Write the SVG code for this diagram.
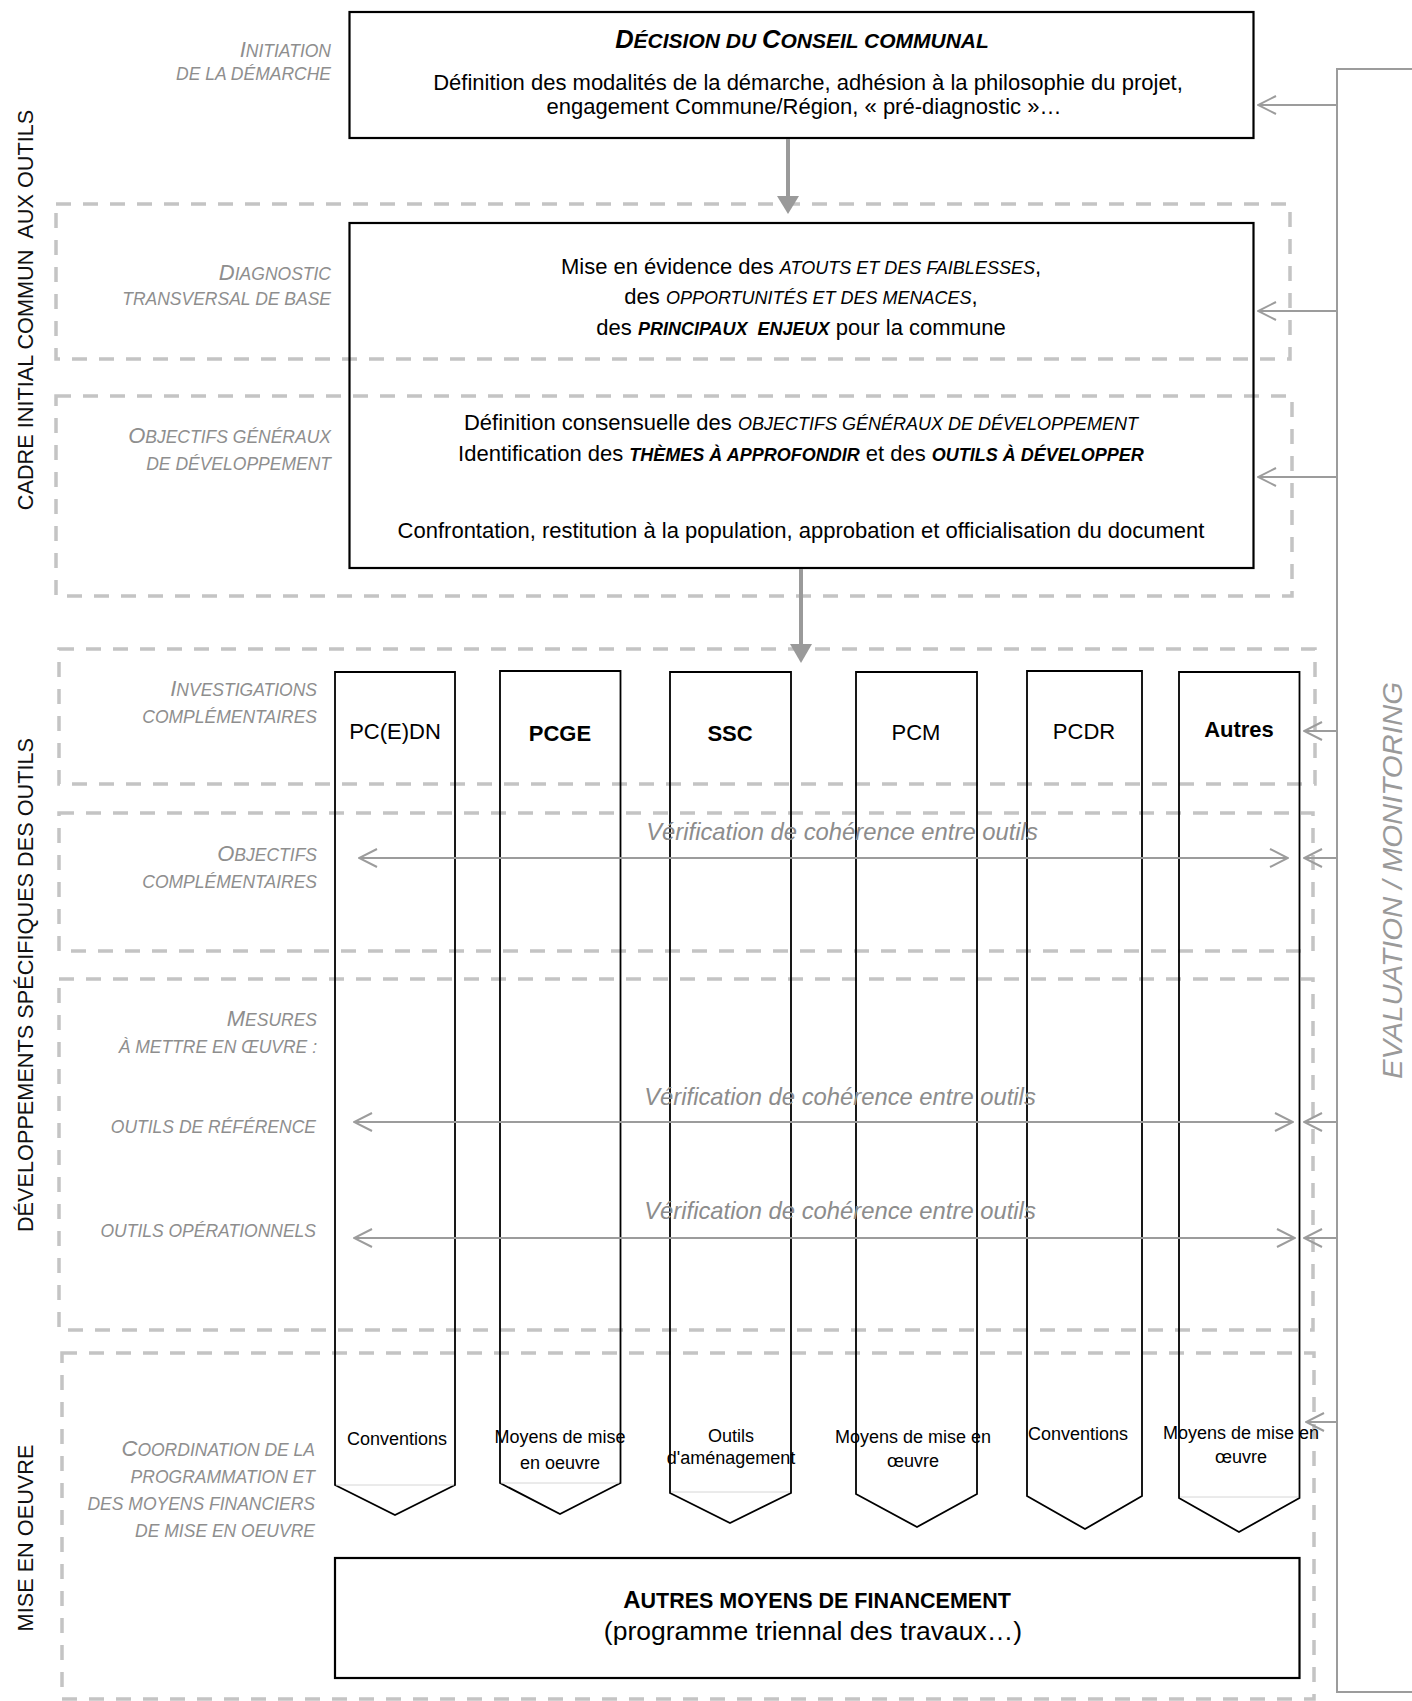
<svg xmlns="http://www.w3.org/2000/svg" width="1412" height="1701" viewBox="0 0 1412 1701">
<defs>
<style>
text{font-family:"Liberation Sans",Arial,sans-serif;fill:#000}
.box{fill:none;stroke:#000;stroke-width:2.2}
.dash{fill:none;stroke:#c4c4c4;stroke-width:3.5;stroke-dasharray:15 12}
.col{fill:none;stroke:#000;stroke-width:1.8}
.base{stroke:#d6d6d6;stroke-width:1}
.flow{stroke:#9a9a9a;stroke-width:4;fill:none}
.head{fill:#9a9a9a}
.thin{stroke:#9c9c9c;stroke-width:2;fill:none}
.body{font-size:22px}
.sc{font-style:italic;font-size:18px}
.bsc{font-style:italic;font-weight:bold;font-size:18px}
.lab{font-style:italic;font-size:17.5px;fill:#8e8e8e}
.big{font-size:22px}
.side{font-size:21.7px;fill:#111}
.verif{font-style:italic;font-size:23.8px;fill:#8c8c8c}
.colt{font-size:22px}
.colb{font-size:18px}
.eval{font-style:italic;font-size:28px;fill:#9a9a9a}
</style>
<marker id="open" viewBox="0 0 20 20" refX="19" refY="10" markerWidth="20" markerHeight="20" markerUnits="userSpaceOnUse" orient="auto-start-reverse">
<path d="M1,1 L19,10 L1,19" fill="none" stroke="#9c9c9c" stroke-width="2"/>
</marker>
</defs>
<rect width="1412" height="1701" fill="#fff"/>

<g id="zones">
<rect class="dash" x="56" y="204" width="1234" height="155"/>
<rect class="dash" x="56" y="396" width="1236" height="200"/>
<rect class="dash" x="59" y="649" width="1256" height="135"/>
<rect class="dash" x="59" y="813" width="1254" height="138"/>
<rect class="dash" x="59" y="979" width="1254" height="351"/>
<rect class="dash" x="62" y="1353" width="1252" height="346"/>
</g>

<g id="side-labels">
<text class="side" transform="translate(33,310) rotate(-90)" text-anchor="middle" xml:space="preserve">CADRE INITIAL COMMUN  AUX OUTILS</text>
<text class="side" transform="translate(33,985) rotate(-90)" text-anchor="middle">DÉVELOPPEMENTS SPÉCIFIQUES DES OUTILS</text>
<text class="side" transform="translate(33,1538) rotate(-90)" text-anchor="middle">MISE EN OEUVRE</text>
<text class="eval" transform="translate(1402,1079) rotate(-90)" textLength="397" lengthAdjust="spacingAndGlyphs">EVALUATION / MONITORING</text>
</g>

<g id="stage-labels">
<text class="lab" x="331" y="57" text-anchor="end"><tspan class="big">I</tspan>NITIATION</text>
<text class="lab" x="331" y="80" text-anchor="end">DE LA DÉMARCHE</text>
<text class="lab" x="331" y="280" text-anchor="end"><tspan class="big">D</tspan>IAGNOSTIC</text>
<text class="lab" x="331" y="305" text-anchor="end">TRANSVERSAL DE BASE</text>
<text class="lab" x="331" y="443" text-anchor="end"><tspan class="big">O</tspan>BJECTIFS GÉNÉRAUX</text>
<text class="lab" x="331" y="470" text-anchor="end">DE DÉVELOPPEMENT</text>
<text class="lab" x="317" y="696" text-anchor="end"><tspan class="big">I</tspan>NVESTIGATIONS</text>
<text class="lab" x="317" y="723" text-anchor="end">COMPLÉMENTAIRES</text>
<text class="lab" x="317" y="861" text-anchor="end"><tspan class="big">O</tspan>BJECTIFS</text>
<text class="lab" x="317" y="888" text-anchor="end">COMPLÉMENTAIRES</text>
<text class="lab" x="317" y="1026" text-anchor="end"><tspan class="big">M</tspan>ESURES</text>
<text class="lab" x="317" y="1053" text-anchor="end">À METTRE EN ŒUVRE :</text>
<text class="lab" x="316" y="1133" text-anchor="end">OUTILS DE RÉFÉRENCE</text>
<text class="lab" x="316" y="1237" text-anchor="end">OUTILS OPÉRATIONNELS</text>
<text class="lab" x="315" y="1456" text-anchor="end"><tspan class="big">C</tspan>OORDINATION DE LA</text>
<text class="lab" x="315" y="1483" text-anchor="end">PROGRAMMATION ET</text>
<text class="lab" x="315" y="1510" text-anchor="end">DES MOYENS FINANCIERS</text>
<text class="lab" x="315" y="1537" text-anchor="end">DE MISE EN OEUVRE</text>
</g>

<g id="decision">
<rect class="box" x="349.5" y="12" width="904" height="126"/>
<text x="802" y="48" text-anchor="middle" font-weight="bold" font-style="italic" font-size="21"><tspan font-size="25.5">D</tspan>ÉCISION DU <tspan font-size="25.5">C</tspan>ONSEIL COMMUNAL</text>
<text class="body" x="808" y="90" text-anchor="middle" font-size="22.5">Définition des modalités de la démarche, adhésion à la philosophie du projet,</text>
<text class="body" x="804" y="114" text-anchor="middle" font-size="22.5">engagement Commune/Région, « pré-diagnostic »…</text>
</g>

<g id="diagnostic">
<rect class="box" x="349.5" y="223" width="904" height="345"/>
<text class="body" x="801" y="274" text-anchor="middle">Mise en évidence des <tspan class="sc">ATOUTS ET DES FAIBLESSES</tspan>,</text>
<text class="body" x="801" y="304" text-anchor="middle">des <tspan class="sc">OPPORTUNITÉS ET DES MENACES</tspan>,</text>
<text class="body" x="801" y="335" text-anchor="middle" xml:space="preserve">des <tspan class="bsc">PRINCIPAUX  ENJEUX</tspan> pour la commune</text>
<text class="body" x="801" y="430" text-anchor="middle">Définition consensuelle des <tspan class="sc">OBJECTIFS GÉNÉRAUX DE DÉVELOPPEMENT</tspan></text>
<text class="body" x="801" y="461" text-anchor="middle">Identification des <tspan class="bsc">THÈMES À APPROFONDIR</tspan> et des <tspan class="bsc">OUTILS À DÉVELOPPER</tspan></text>
<text class="body" x="801" y="538" text-anchor="middle">Confrontation, restitution à la population, approbation et officialisation du document</text>
</g>

<g id="col-pcedn">
<path class="col" d="M335,1485 V672 H455 V1485 L395,1515 Z"/>
<line class="base" x1="336" y1="1485" x2="454" y2="1485"/>
<text class="colt" x="395" y="739" text-anchor="middle">PC(E)DN</text>
<text class="colb" x="397" y="1445" text-anchor="middle">Conventions</text>
</g>
<g id="col-pcge">
<path class="col" d="M500,1483 V671 H620.5 V1483 L560,1514 Z"/>
<line class="base" x1="501" y1="1483" x2="619" y2="1483"/>
<text class="colt" x="560" y="741" text-anchor="middle" font-weight="bold" font-size="27">PCGE</text>
<text class="colb" x="560" y="1443" text-anchor="middle">Moyens de mise</text>
<text class="colb" x="560" y="1469" text-anchor="middle">en oeuvre</text>
</g>
<g id="col-ssc">
<path class="col" d="M670,1493 V672 H791 V1493 L730,1523 Z"/>
<line class="base" x1="671" y1="1492" x2="790" y2="1492"/>
<text class="colt" x="730" y="741" text-anchor="middle" font-weight="bold" font-size="27">SSC</text>
<text class="colb" x="731" y="1442" text-anchor="middle">Outils</text>
<text class="colb" x="731" y="1464" text-anchor="middle">d'aménagement</text>
</g>
<g id="col-pcm">
<path class="col" d="M856,1494 V672 H977 V1494 L917,1527 Z"/>
<text class="colt" x="916" y="740" text-anchor="middle">PCM</text>
<text class="colb" x="913" y="1443" text-anchor="middle">Moyens de mise en</text>
<text class="colb" x="913" y="1467" text-anchor="middle">œuvre</text>
</g>
<g id="col-pcdr">
<path class="col" d="M1027,1496 V671 H1142 V1496 L1085,1529 Z"/>
<text class="colt" x="1084" y="739" text-anchor="middle">PCDR</text>
<text class="colb" x="1078" y="1440" text-anchor="middle">Conventions</text>
</g>
<g id="col-autres">
<path class="col" d="M1179,1498 V672 H1299.5 V1498 L1239,1532 Z"/>
<line class="base" x1="1180" y1="1497" x2="1298" y2="1497"/>
<text class="colt" x="1239" y="737" text-anchor="middle" font-weight="bold" font-size="20">Autres</text>
<text class="colb" x="1241" y="1439" text-anchor="middle">Moyens de mise en</text>
<text class="colb" x="1241" y="1463" text-anchor="middle">œuvre</text>
</g>

<g id="financement">
<rect class="box" x="335" y="1558" width="964.5" height="120"/>
<text x="817" y="1608" text-anchor="middle" font-weight="bold" font-size="21.5"><tspan font-size="24">A</tspan>UTRES MOYENS DE FINANCEMENT</text>
<text x="813" y="1640" text-anchor="middle" font-size="26.5">(programme triennal des travaux…)</text>
</g>

<g id="connectors">
<line class="flow" x1="788" y1="139" x2="788" y2="200"/>
<polygon class="head" points="777,196 799,196 788,214"/>
<line class="flow" x1="801" y1="569" x2="801" y2="648"/>
<polygon class="head" points="790,644 812,644 801,663"/>

<path class="thin" d="M1412,69 H1337 V1692 H1412"/>
<line class="thin" x1="1337" y1="105" x2="1258" y2="105" marker-end="url(#open)"/>
<line class="thin" x1="1337" y1="311" x2="1258" y2="311" marker-end="url(#open)"/>
<line class="thin" x1="1337" y1="477" x2="1258" y2="477" marker-end="url(#open)"/>
<line class="thin" x1="1337" y1="731" x2="1304" y2="731" marker-end="url(#open)"/>
<line class="thin" x1="1337" y1="858" x2="1304" y2="858" marker-end="url(#open)"/>
<line class="thin" x1="1337" y1="1122" x2="1304" y2="1122" marker-end="url(#open)"/>
<line class="thin" x1="1337" y1="1238" x2="1304" y2="1238" marker-end="url(#open)"/>
<line class="thin" x1="1337" y1="1422" x2="1306" y2="1422" marker-end="url(#open)"/>

<line class="thin" x1="359" y1="858" x2="1288" y2="858" marker-start="url(#open)" marker-end="url(#open)"/>
<line class="thin" x1="354" y1="1122" x2="1293" y2="1122" marker-start="url(#open)" marker-end="url(#open)"/>
<line class="thin" x1="354" y1="1238" x2="1295" y2="1238" marker-start="url(#open)" marker-end="url(#open)"/>
<text class="verif" x="842" y="840" text-anchor="middle">Vérification de cohérence entre outils</text>
<text class="verif" x="840" y="1105" text-anchor="middle">Vérification de cohérence entre outils</text>
<text class="verif" x="840" y="1219" text-anchor="middle">Vérification de cohérence entre outils</text>
</g>
</svg>
